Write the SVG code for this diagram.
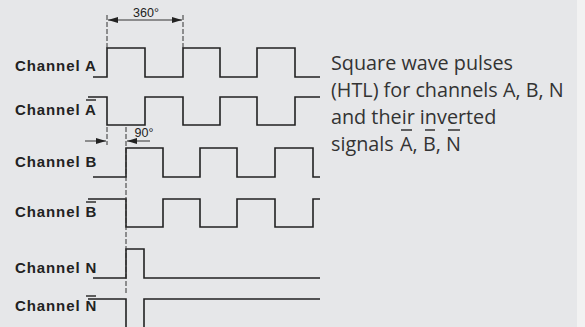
<svg xmlns="http://www.w3.org/2000/svg" width="585" height="327" viewBox="0 0 585 327">
  <defs>
    <style>
      .lbl { font-family: "Liberation Sans", Arial, sans-serif; font-weight: bold; font-size: 15px; letter-spacing: 0.9px; fill: #222; }
      .dim { font-family: "Liberation Sans", Arial, sans-serif; font-size: 12.5px; fill: #222; }
      .desc { font-family: "Open Sans", "Noto Sans", sans-serif; font-size: 19.8px; fill: #333; }
      .wave { fill: none; stroke: #222; stroke-width: 1.6; stroke-linejoin: miter; }
      .dash { fill: none; stroke: #333; stroke-width: 1; stroke-dasharray: 5 2; }
      .dimline { fill: none; stroke: #333; stroke-width: 1; }
      .ovl { fill: none; stroke: #222; stroke-width: 1.4; }
      .ovd { fill: none; stroke: #333; stroke-width: 1.3; }
    </style>
    <marker id="arr" viewBox="0 0 10 6" refX="10" refY="3" markerWidth="10" markerHeight="6" markerUnits="userSpaceOnUse" orient="auto">
      <path d="M0,0 L10,3 L0,6 Z" fill="#222"/>
    </marker>
  </defs>
  <rect width="585" height="327" fill="#f2f2f2"/>
  <rect width="577" height="327" fill="#e6e7e9"/>

  <g id="label-A"><text class="lbl" x="15" y="71">Channel A</text></g>
  <g id="label-Abar"><text class="lbl" x="15" y="115">Channel A</text><path class="ovl" d="M86,100 H96"/></g>
  <g id="label-B"><text class="lbl" x="15" y="167">Channel B</text></g>
  <g id="label-Bbar"><text class="lbl" x="15" y="217">Channel B</text><path class="ovl" d="M86,202 H96"/></g>
  <g id="label-N"><text class="lbl" x="15" y="273">Channel N</text></g>
  <g id="label-Nbar"><text class="lbl" x="15" y="311">Channel N</text><path class="ovl" d="M86,296 H96"/></g>

  <g id="wave-A"><path class="wave" d="M93,77 H107 V48 H145 V77 H183 V48 H220 V77 H257 V48 H295 V77 H320"/></g>
  <g id="wave-Abar"><path class="wave" d="M88,97 H107 V125 H145 V97 H183 V125 H220 V97 H257 V125 H295 V97 H320"/></g>
  <g id="wave-B"><path class="wave" d="M93,177 H126 V148 H163 V177 H200 V148 H237 V177 H275 V148 H313 V177 H320"/></g>
  <g id="wave-Bbar"><path class="wave" d="M88,199 H126 V227 H163 V199 H200 V227 H237 V199 H275 V227 H313 V199 H320"/></g>
  <g id="wave-N"><path class="wave" d="M93,278 H126 V249 H144 V278 H320"/></g>
  <g id="wave-Nbar"><path class="wave" d="M88,299 H126 V330 M144,330 V299 H320"/></g>

  <g id="connectors">
    <path class="dash" d="M107,15 V48 M183,15 V48"/>
    <path class="dimline" d="M145,20 H108" marker-end="url(#arr)"/>
    <path class="dimline" d="M145,20 H182" marker-end="url(#arr)"/>
    <path class="dash" d="M107,127 V145 M126,127 V293"/>
    <path class="dimline" d="M85,141 H106" marker-end="url(#arr)"/>
    <path class="dimline" d="M150,141 H127" marker-end="url(#arr)"/>
  </g>

  <g id="dim-360"><text class="dim" x="146" y="17" text-anchor="middle">360°</text></g>
  <g id="dim-90"><text class="dim" x="144" y="137" text-anchor="middle">90°</text></g>

  <g id="description">
    <text class="desc" x="331" y="70">Square wave pulses</text>
    <text class="desc" x="331" y="97">(HTL) for channels A, B, N</text>
    <text class="desc" x="331" y="124">and their inverted</text>
    <text class="desc" x="331" y="151">signals <tspan x="400">A</tspan>, <tspan x="423">B</tspan>, <tspan x="446">N</tspan></text>
    <path class="ovd" d="M401,130 H412 M425,130 H435 M448,130 H460"/>
  </g>
</svg>
